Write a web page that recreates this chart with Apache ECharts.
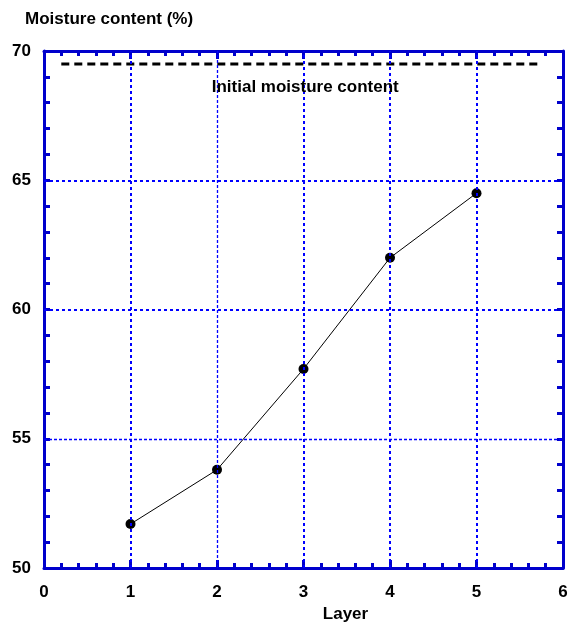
<!DOCTYPE html>
<html><head><meta charset="utf-8">
<script src="https://cdn.jsdelivr.net/npm/echarts@6/dist/echarts.min.js"></script>
<style>html,body{margin:0;padding:0;background:#fff}#c{width:577px;height:624px}</style>
</head><body><div id="c"></div>
<script>
const layers = [1, 2, 3, 4, 5];
const moisture = [51.7, 53.8, 57.7, 62.0, 64.5];
const initialX = [0.2, 5.75];
const initialMoisture = 69.5;
const initialLabel = 'Initial moisture content';
const xRange = [0, 6];
const yRange = [50, 70];
const xGrid = [1, 2, 3, 4, 5];
const yGrid = [55, 60, 65];
const thinX = [2];
const thinY = [55];

const axisBlue = '#0000cc';
const gridBlue = '#0000ff';
const font = '"Liberation Sans", Arial, sans-serif';
const fs = 17;

function axisBase(extra) {
  return Object.assign({
    type: 'value',
    axisLine: { show: true, onZero: false, lineStyle: { color: axisBlue, width: 3 } },
    axisTick: { show: true, inside: true, length: 8, lineStyle: { color: axisBlue, width: 3 } },
    minorTick: { show: true, splitNumber: 5, length: 5, lineStyle: { color: axisBlue, width: 3 } },
    splitLine: { show: false },
    axisLabel: { color: '#000', fontFamily: font, fontWeight: 'bold', fontSize: fs }
  }, extra);
}

const chart = echarts.init(document.getElementById('c'));
const markData = [];
xGrid.forEach(v => markData.push({ xAxis: v, lineStyle: { color: gridBlue, type: thinX.includes(v) ? [3, 2] : [3, 3], width: thinX.includes(v) ? 1.3 : 2 } }));
yGrid.forEach(v => markData.push({ yAxis: v, lineStyle: { color: gridBlue, type: thinY.includes(v) ? [3, 2] : [3, 3], width: thinY.includes(v) ? 1.3 : 2 } }));

chart.setOption({
  animation: false,
  title: { text: 'Moisture content (%)', left: 20, top: 6,
    textStyle: { fontFamily: font, fontWeight: 'bold', fontSize: fs, color: '#000' } },
  grid: { left: 44, right: 14, top: 51, bottom: 56, outerBoundsMode: 'none', containLabel: false },
  xAxis: [
    axisBase({ min: xRange[0], max: xRange[1], interval: 1, position: 'bottom',
      name: 'Layer', nameLocation: 'middle', nameGap: 36,
      nameTextStyle: { color: '#000', fontFamily: font, fontWeight: 'bold', fontSize: fs, padding: [0, 0, 0, 84] },
      axisLabel: { color: '#000', fontFamily: font, fontWeight: 'bold', fontSize: fs, margin: 16 } }),
    axisBase({ min: xRange[0], max: xRange[1], interval: 1, position: 'top', axisLabel: { show: false } })
  ],
  yAxis: [
    axisBase({ min: yRange[0], max: yRange[1], interval: 5, position: 'left',
      axisTick: { show: true, inside: true, length: 6, lineStyle: { color: axisBlue, width: 3 } },
      minorTick: { show: true, splitNumber: 5, length: 6, lineStyle: { color: axisBlue, width: 3 } },
      axisLabel: { color: '#000', fontFamily: font, fontWeight: 'bold', fontSize: fs, margin: 13 } }),
    axisBase({ min: yRange[0], max: yRange[1], interval: 5, position: 'right',
      axisTick: { show: true, inside: true, length: 6, lineStyle: { color: axisBlue, width: 3 } },
      minorTick: { show: true, splitNumber: 5, length: 6, lineStyle: { color: axisBlue, width: 3 } },
      axisLabel: { show: false } })
  ],
  series: [
    {
      type: 'line', xAxisIndex: 0, yAxisIndex: 0, data: [], silent: true, z: 1,
      markLine: { silent: true, symbol: ['none', 'none'], label: { show: false }, data: markData, animation: false }
    },
    {
      type: 'line', xAxisIndex: 0, yAxisIndex: 0, z: 3,
      data: initialX.map(x => [x, initialMoisture]),
      showSymbol: false, symbol: 'none',
      lineStyle: { color: '#000', width: 3, type: [8, 5] },
      markPoint: {
        symbol: 'circle', symbolSize: 0,
        data: [{ coord: [3.02, 68.6] }],
        label: { show: true, formatter: initialLabel, color: '#000', fontFamily: font, fontWeight: 'bold', fontSize: fs, position: 'inside' }
      }
    },
    {
      type: 'line', xAxisIndex: 0, yAxisIndex: 0, z: 4,
      data: layers.map((l, i) => [l, moisture[i]]),
      symbol: 'circle', symbolSize: 10,
      itemStyle: { color: '#000' },
      lineStyle: { color: '#000', width: 1 }
    }
  ]
});
</script></body></html>
